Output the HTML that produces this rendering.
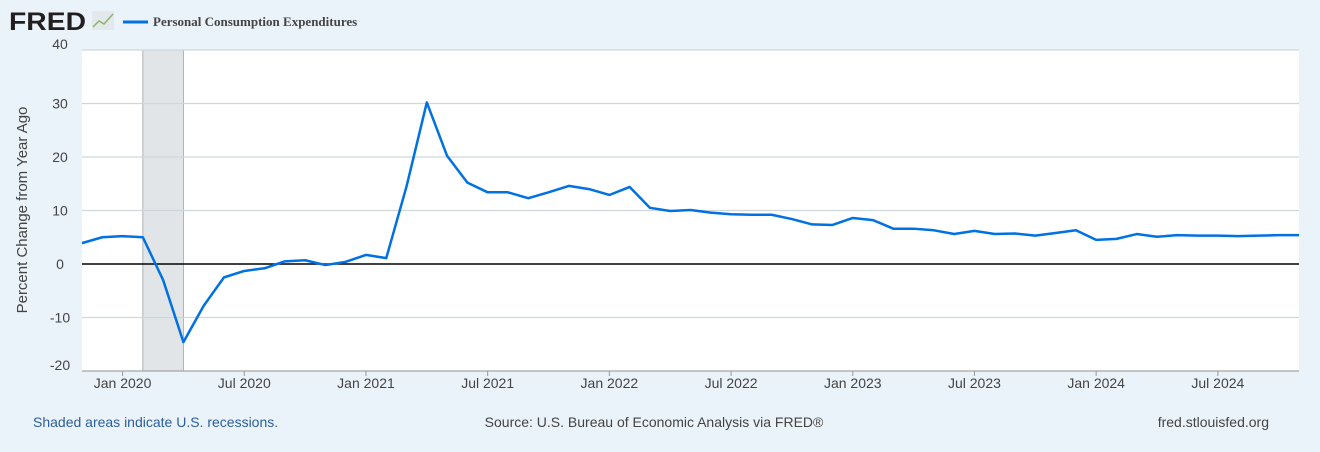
<!DOCTYPE html>
<html><head><meta charset="utf-8"><style>
body{margin:0;background:#eaf2fa;width:1320px;height:447px;overflow:hidden;font-family:"Liberation Sans",sans-serif}
</style></head><body>
<svg id="c" width="1320" height="447" xmlns="http://www.w3.org/2000/svg">
<rect width="1320" height="447" fill="#eaf2fa"/>
<text x="9" y="30" font-size="25" font-weight="bold" fill="#231f20" font-family="Liberation Sans" textLength="77" lengthAdjust="spacingAndGlyphs">FRED</text>
<rect x="92" y="11" width="22" height="19" fill="#e3e8ec"/>
<polyline points="93,27 99,21 104,24 113,14" fill="none" stroke="#8fb36b" stroke-width="1.5"/>
<line x1="123" y1="22" x2="148" y2="22" stroke="#0071e3" stroke-width="3"/>
<text x="153" y="26" font-size="13" font-weight="bold" fill="#444" font-family="Liberation Serif">Personal Consumption Expenditures</text>
<rect x="82" y="50" width="1217" height="321" fill="#fff"/>
<g id="grid"></g>
<g id="rec"></g>
<g id="ticks"></g>
<text transform="translate(27,210) rotate(-90)" text-anchor="middle" font-size="15" fill="#444">Percent Change from Year Ago</text>
<text x="33" y="427" font-size="14" fill="#2b5f9e">Shaded areas indicate U.S. recessions.</text>
<text x="654" y="427" font-size="14" fill="#444" text-anchor="middle">Source: U.S. Bureau of Economic Analysis via FRED®</text>
<text x="1269" y="427" font-size="14" fill="#444" text-anchor="end">fred.stlouisfed.org</text>
</svg>
<script>
const values=[3.9,5.0,5.2,5.0,-3,-14.6,-7.8,-2.5,-1.3,-0.8,0.5,0.7,-0.2,0.4,1.7,1.1,14.5,30.2,20.2,15.2,13.4,13.4,12.3,13.4,14.6,14.0,12.9,14.4,10.5,9.9,10.1,9.6,9.3,9.2,9.2,8.4,7.4,7.3,8.6,8.2,6.6,6.6,6.3,5.6,6.2,5.6,5.7,5.3,5.8,6.3,4.5,4.7,5.6,5.1,5.4,5.3,5.3,5.2,5.3,5.4,5.4];
const yTicks=[40,30,20,10,0,-10,-20];
const xTickLabels=["Jan 2020","Jul 2020","Jan 2021","Jul 2021","Jan 2022","Jul 2022","Jan 2023","Jul 2023","Jan 2024","Jul 2024"];
const xTickIdx=[2,8,14,20,26,32,38,44,50,56];
const recession=[3,5];
const NS="http://www.w3.org/2000/svg";
const X0=82,X1=1299,Y0=50,Y1=371,vmax=40,vmin=-20;
const x=i=>X0+i*(X1-X0)/(values.length-1);
const y=v=>Y0+(vmax-v)*(Y1-Y0)/(vmax-vmin);
const svg=document.getElementById('c');
function mk(t,a,p){const e=document.createElementNS(NS,t);for(const k in a)e.setAttribute(k,a[k]);(p||svg).appendChild(e);return e;}
const grid=document.getElementById('grid');
yTicks.forEach(v=>{
 const l=mk('line',{x1:X0,x2:X1,y1:y(v),y2:y(v),stroke:v===0?'#000':'#cfd6dc','stroke-width':v===0?1.5:1.2},grid);
 
 
 const t=mk('text',{x:60,y:v===40?49:(v===-20?370:y(v)+5),'text-anchor':'middle','font-size':14,fill:'#444'});
 t.textContent=v;
 
 
});
const r=mk('rect',{x:x(recession[0]),y:Y0,width:x(recession[1])-x(recession[0]),height:Y1-Y0,fill:'#e1e5e8',stroke:'#a0a4a8','stroke-width':0.8},document.getElementById('rec'));


svg.insertBefore(document.getElementById('rec'),grid);
const tk=document.getElementById('ticks');
xTickIdx.forEach((idx,k)=>{
 const l=mk('line',{x1:x(idx),x2:x(idx),y1:Y1,y2:Y1+5,stroke:'#999'},tk);
 
 
 const t=mk('text',{x:x(idx),y:Y1+17,'text-anchor':'middle','font-size':14,fill:'#444'},tk);
 t.textContent=xTickLabels[k];
 
 
});
const ax=mk('line',{x1:X0,x2:X1,y1:Y1,y2:Y1,stroke:'#999'});


const pl=mk('polyline',{points:values.map((v,i)=>x(i)+','+y(v)).join(' '),fill:'none',stroke:'#0071e3','stroke-width':2.5,'stroke-linejoin':'round'});


</script>
</body></html>
